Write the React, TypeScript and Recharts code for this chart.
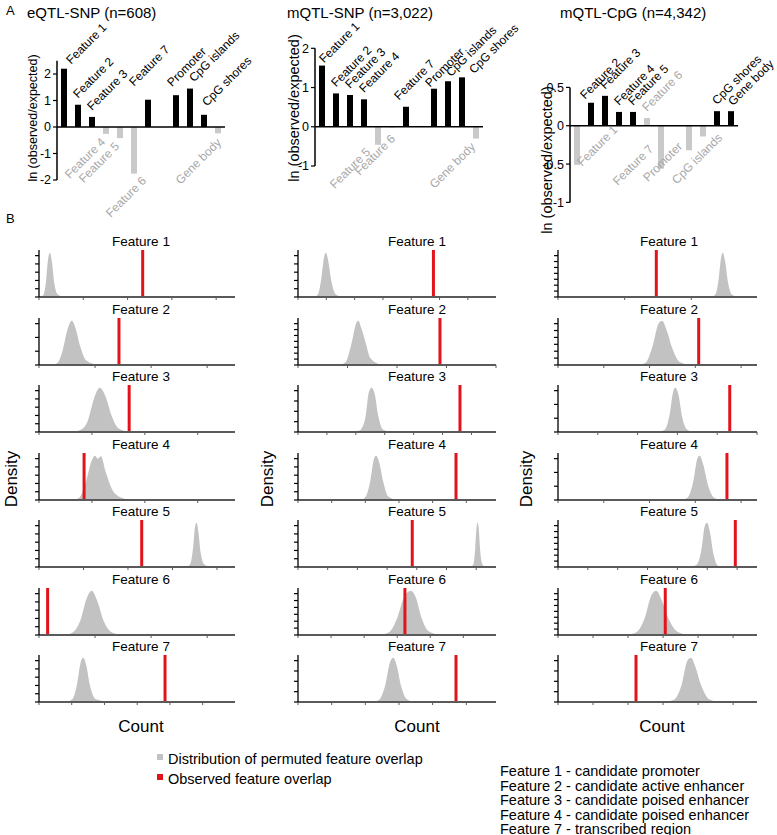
import { BarChart, Bar, Cell, XAxis, YAxis, ReferenceLine, LabelList, AreaChart, Area } from "recharts";

const FONT = '"Liberation Sans", Arial, Helvetica, sans-serif';
const BLACK = "#000000";
const GREY_BAR = "#c9c9c9";
const GREY_TEXT = "#a8a8a8";
const DENSITY_FILL = "#c2c2c2";
const RED = "#e3131b";

// ---- panel A: ln(observed/expected) per annotation ----
// the empty slot is the gap between Feature 7 and Promoter
const regions = [
  "Feature 1", "Feature 2", "Feature 3", "Feature 4", "Feature 5", "Feature 6", "Feature 7",
  "", "Promoter", "CpG islands", "CpG shores", "Gene body",
];

const eqtlSnpEnrich = [2.2, 0.84, 0.38, -0.26, -0.42, -1.76, 1.03, null, 1.2, 1.45, 0.46, -0.24];
const eqtlSnpSignif = [true, true, true, false, false, false, true, false, true, true, true, false];

const mqtlSnpEnrich = [1.56, 0.85, 0.81, 0.7, -0.46, -0.02, 0.51, null, 0.97, 1.16, 1.26, -0.3];
const mqtlSnpSignif = [true, true, true, true, false, false, true, false, true, true, true, false];

const mqtlCpgEnrich = [-0.51, 0.3, 0.39, 0.18, 0.18, 0.1, -0.56, null, -0.32, -0.14, 0.19, 0.19];
const mqtlCpgSignif = [false, true, true, true, true, false, false, false, false, false, true, true];

const eqtlSnpTicks = [-2, -1, 0, 1, 2];
const mqtlSnpTicks = [-1, 0, 1, 2];
const mqtlCpgTicks = [-1, -0.5, 0, 0.5];

// hand placement of some rotated labels, like the original
type Nudge = { dx?: number; dy?: number; anchor?: "start" | "end" };
const eqtlSnpNudges: Record<string, Nudge> = {
  "Feature 1": { dx: 7, dy: 2 },
  "Feature 7": { dx: -14, dy: -7 },
  "Feature 6": { dx: 13, dy: -1 },
  "Promoter": { dx: -4, dy: -2 },
  "CpG islands": { dx: 4 },
  "CpG shores": { dx: 3, dy: -2 },
  "Gene body": { dx: 4, dy: 1 },
};
const mqtlSnpNudges: Record<string, Nudge> = {
  "Feature 1": { dx: 2, dy: 4 },
  "Feature 5": { dx: -7, dy: -1 },
  "Feature 7": { dx: -7 },
  "Promoter": { dx: -4, dy: 5 },
  "CpG islands": { dx: 3, dy: 2 },
  "CpG shores": { dx: 12, dy: 3 },
  "Feature 6": { dx: 4, dy: 3 },
};
const mqtlCpgNudges: Record<string, Nudge> = {
  "Feature 1": { dx: 5, dy: -7, anchor: "start" },
  "Feature 2": { dx: -6, dy: 3 },
  "Feature 7": { dx: -7, dy: -28 },
  "Promoter": { dx: -6, dy: -12 },
  "CpG islands": { dx: 20, dy: -7 },
  "Gene body": { dx: 2, dy: 1 },
};

// ---- panel B: permuted overlap densities [count (0-100 of axis), density] ----
const eqtlSnpPerm = [
  [[0, 0], [2, 0.03], [3.5, 0.3], [4.6, 0.8], [5.6, 0.94], [6.6, 0.75], [7.8, 0.3], [9.5, 0.06], [13, 0]],
  [[6.6, 0], [9.5, 0.05], [12, 0.3], [14.5, 0.75], [16.7, 0.94], [18.5, 0.8], [21, 0.4], [24, 0.1], [30, 0]],
  [[17, 0], [21, 0.04], [25, 0.25], [28, 0.7], [31, 0.94], [34, 0.75], [37, 0.35], [40.5, 0.08], [46, 0]],
  [[17, 0], [20.5, 0.05], [24, 0.4], [27, 0.85], [28.6, 0.94], [30, 0.88], [31.6, 0.93], [34, 0.6], [37, 0.25], [41, 0.07], [47, 0]],
  [[74.5, 0], [77, 0.05], [78.6, 0.4], [79.6, 0.85], [80.4, 0.94], [81.3, 0.75], [82.5, 0.3], [84.5, 0.05], [88, 0]],
  [[12.4, 0], [17, 0.05], [21, 0.3], [24.5, 0.8], [26.9, 0.94], [29.5, 0.75], [33, 0.3], [37, 0.06], [43, 0]],
  [[13, 0], [17, 0.06], [19.5, 0.4], [21.3, 0.85], [22.6, 0.94], [24, 0.8], [26, 0.35], [29, 0.06], [38, 0]],
];
const mqtlSnpPerm = [
  [[7.7, 0], [10, 0.05], [11.8, 0.4], [13.2, 0.85], [14.1, 0.94], [15.2, 0.78], [16.8, 0.35], [19, 0.06], [22.9, 0]],
  [[20.4, 0], [24, 0.06], [27, 0.45], [29.3, 0.88], [30.5, 0.94], [32, 0.78], [34, 0.5], [36.5, 0.15], [42.3, 0]],
  [[26.6, 0], [31, 0.03], [34, 0.3], [35.8, 0.85], [37.2, 0.94], [38.8, 0.8], [40.5, 0.35], [43, 0.05], [48.1, 0]],
  [[31.3, 0], [34, 0.06], [36.5, 0.4], [38.4, 0.88], [39.4, 0.94], [41, 0.8], [43, 0.4], [45.5, 0.08], [49.8, 0]],
  [[86.9, 0], [88.5, 0.05], [89.5, 0.4], [90.2, 0.85], [90.7, 0.94], [91.3, 0.8], [92, 0.35], [93.2, 0.05], [94.9, 0]],
  [[40.6, 0], [46, 0.06], [50, 0.35], [53.5, 0.8], [56.9, 0.94], [59.5, 0.8], [62.5, 0.35], [66, 0.08], [71.7, 0]],
  [[37.2, 0], [41, 0.05], [44, 0.35], [46.5, 0.85], [48.1, 0.94], [50, 0.75], [52, 0.35], [55, 0.06], [59, 0]],
];
const mqtlCpgPerm = [
  [[76.5, 0], [79, 0.05], [80.8, 0.4], [82, 0.85], [82.8, 0.94], [84, 0.75], [85.5, 0.3], [87.5, 0.05], [90.8, 0]],
  [[39.7, 0], [44, 0.05], [47.5, 0.4], [50.5, 0.88], [52.3, 0.94], [54.5, 0.75], [57.5, 0.35], [61, 0.07], [66.5, 0]],
  [[49.7, 0], [53.5, 0.04], [56, 0.35], [58, 0.88], [59, 0.94], [60.5, 0.8], [62.5, 0.3], [65, 0.05], [68.2, 0]],
  [[61.5, 0], [65, 0.05], [68, 0.4], [70, 0.88], [71.2, 0.94], [73, 0.75], [75.5, 0.3], [78.5, 0.05], [82.4, 0]],
  [[66.2, 0], [69.5, 0.04], [72, 0.35], [73.8, 0.88], [74.9, 0.94], [76.3, 0.75], [78, 0.3], [80, 0.04], [81.5, 0]],
  [[33, 0], [39, 0.05], [43.5, 0.35], [47, 0.85], [49.4, 0.94], [52, 0.75], [55.5, 0.35], [60, 0.07], [65.7, 0]],
  [[53.1, 0], [58, 0.04], [62, 0.35], [65, 0.88], [66.8, 0.94], [69, 0.75], [72, 0.35], [76, 0.06], [81.6, 0]],
];

const eqtlSnpObserved = [52.9, 40.8, 46, 23, 52.4, 4.4, 64.3];
const mqtlSnpObserved = [68.4, 71.7, 81.8, 79.8, 57.7, 54, 79.8];
const mqtlCpgObserved = [49.4, 70.7, 86.3, 84.9, 89.1, 53.9, 39.2];

// tick counts / spacing of the small density axes
const eqtlSnpYTicks = [6, 4, 6, 6, 6, 6, 6];
const mqtlSnpYTicks = [6, 8, 5, 6, 6, 7, 5];
const mqtlCpgYTicks = [8, 7, 4, 4, 8, 8, 5];
const eqtlSnpXStep = [22.6, 28.6, 27, 27, 22.7, 28.6, 16.7];
const mqtlSnpXStep = [14.3, 25, 14.6, 17, 15, 16.7, 17];
const mqtlCpgXStep = [33.5, 23, 20, 23, 15, 17.6, 17.6];

const featureNames = ["Feature 1", "Feature 2", "Feature 3", "Feature 4", "Feature 5", "Feature 6", "Feature 7"];

const legendItems = ["Distribution of permuted feature overlap", "Observed feature overlap"];
const featureKey = [
  "Feature 1 - candidate promoter",
  "Feature 2 - candidate active enhancer",
  "Feature 3 - candidate poised enhancer",
  "Feature 4 - candidate poised enhancer",
  "Feature 7 - transcribed region",
];

type Row = { name: string; v: number | null; sig: boolean };

// LabelList skips the empty slot, so look the row up by its name
const makeBarLabel = (rows: Row[], nudges: Record<string, Nudge>) => (props: any) => {
  const { x, y, width, height, value } = props;
  const row = rows.find((r) => r.name === value);
  if (!row || row.v == null || !row.name) return null;
  const cx = Number(x) + Number(width) / 2;
  const top = Math.min(Number(y), Number(y) + Number(height));
  const bottom = Math.max(Number(y), Number(y) + Number(height));
  const n = nudges[row.name] || {};
  const up = row.v > 0;
  const anchor = n.anchor ?? (up ? "start" : "end");
  const px = cx + (n.dx ?? 0);
  const py = (up ? top - 6 : bottom + 9) + (n.dy ?? 0);
  return (
    <text
      x={px}
      y={py}
      transform={`rotate(-45 ${px} ${py})`}
      textAnchor={anchor}
      fontSize={12}
      fontFamily={FONT}
      fill={row.sig ? BLACK : GREY_TEXT}
    >
      {row.name}
    </text>
  );
};

function EnrichmentChart(props: {
  left: number;
  width: number;
  values: (number | null)[];
  signif: boolean[];
  ticks: number[];
  top: number;
  plotTop: number;
  plotBottom: number;
  nudges: Record<string, Nudge>;
}) {
  const { left, width, values, signif, ticks, top, plotTop, plotBottom, nudges } = props;
  const rows: Row[] = regions.map((name, i) => ({ name, v: values[i], sig: signif[i] }));
  const height = 250;
  return (
    <div style={{ position: "absolute", left, top: 0 }}>
      <BarChart
        width={width}
        height={height}
        data={rows}
        margin={{ top: plotTop, right: width - 57 - 168, bottom: height - plotBottom, left: 35 }}
        barSize={6}
      >
        <XAxis dataKey="name" hide />
        <YAxis
          type="number"
          domain={[ticks[0], top]}
          ticks={ticks}
          interval={0}
          width={22}
          tickSize={4}
          axisLine={{ stroke: BLACK, strokeWidth: 1.5 }}
          tickLine={{ stroke: BLACK, strokeWidth: 1.2 }}
          tick={{ fontSize: 12.5, fill: BLACK, fontFamily: FONT }}
        />
        <Bar dataKey="v" isAnimationActive={false}>
          {rows.map((r, i) => (
            <Cell key={`c-${i}`} fill={r.sig ? BLACK : GREY_BAR} />
          ))}
          <LabelList dataKey="name" content={makeBarLabel(rows, nudges)} />
        </Bar>
        <ReferenceLine y={0} stroke={BLACK} strokeWidth={1.5} />
      </BarChart>
    </div>
  );
}

function DensityPlot(props: {
  curve: number[][];
  observed: number;
  yTicks: number;
  xStep: number;
  left: number;
  baseline: number;
  width: number;
}) {
  const { curve, observed, yTicks, xStep, left, baseline, width } = props;
  const data = curve.map(([u, d]) => ({ u, d }));
  const xTicks: number[] = [];
  for (let t = 0; t <= 100.01; t += xStep) xTicks.push(Math.round(t * 100) / 100);
  const yTickVals = Array.from({ length: yTicks }, (_, i) => (0.88 * i) / (yTicks - 1));
  return (
    <div style={{ position: "absolute", left: left - 12, top: baseline - 49 }}>
      <AreaChart width={width + 18} height={55} data={data} margin={{ top: 2, right: 6, bottom: 0, left: 2 }}>
        <XAxis
          type="number"
          dataKey="u"
          domain={[0, 100]}
          ticks={xTicks}
          interval={0}
          allowDataOverflow
          height={6}
          tickSize={3}
          tickFormatter={() => ""}
          axisLine={{ stroke: "#5a5a5a", strokeWidth: 2 }}
          tickLine={{ stroke: "#5a5a5a", strokeWidth: 1 }}
        />
        <YAxis
          type="number"
          domain={[0, 1]}
          ticks={yTickVals}
          interval={0}
          width={10}
          tickSize={4}
          tickFormatter={() => ""}
          axisLine={{ stroke: BLACK, strokeWidth: 1.3 }}
          tickLine={{ stroke: BLACK, strokeWidth: 1.2 }}
        />
        <Area
          type="monotone"
          dataKey="d"
          fill={DENSITY_FILL}
          fillOpacity={1}
          stroke="none"
          isAnimationActive={false}
        />
        <ReferenceLine x={observed} stroke={RED} strokeWidth={3} />
      </AreaChart>
    </div>
  );
}

const abs = (style: React.CSSProperties): React.CSSProperties => ({ position: "absolute", whiteSpace: "nowrap", ...style });

export default function App() {
  const columns = [
    { x0: 39, w: 196, titleX: 141, countX: 141, densX: 12, perm: eqtlSnpPerm, obs: eqtlSnpObserved, yt: eqtlSnpYTicks, xs: eqtlSnpXStep },
    { x0: 298, w: 198, titleX: 417, countX: 417, densX: 268, perm: mqtlSnpPerm, obs: mqtlSnpObserved, yt: mqtlSnpYTicks, xs: mqtlSnpXStep },
    { x0: 558, w: 199, titleX: 669, countX: 662, densX: 527, perm: mqtlCpgPerm, obs: mqtlCpgObserved, yt: mqtlCpgYTicks, xs: mqtlCpgXStep },
  ];
  const baselines = featureNames.map((_, r) => 297 + r * 67.5);

  return (
    <div style={{ position: "absolute", left: 0, top: 0, width: 777, height: 835, background: "#fff", fontFamily: FONT, color: BLACK, overflow: "hidden" }}>
      {/* panel A */}
      <div style={abs({ left: 6, top: 3, fontSize: 13 })}>A</div>
      <div style={abs({ left: 27, top: 4, fontSize: 15 })}>eQTL-SNP (n=608)</div>
      <div style={abs({ left: 287, top: 4, fontSize: 15 })}>mQTL-SNP (n=3,022)</div>
      <div style={abs({ left: 560, top: 4, fontSize: 15 })}>mQTL-CpG (n=4,342)</div>

      <EnrichmentChart left={0} width={300} values={eqtlSnpEnrich} signif={eqtlSnpSignif} ticks={eqtlSnpTicks} top={2.5} plotTop={60.75} plotBottom={180} nudges={eqtlSnpNudges} />
      <EnrichmentChart left={258} width={300} values={mqtlSnpEnrich} signif={mqtlSnpSignif} ticks={mqtlSnpTicks} top={2} plotTop={48.3} plotBottom={166} nudges={mqtlSnpNudges} />
      <EnrichmentChart left={513} width={264} values={mqtlCpgEnrich} signif={mqtlCpgSignif} ticks={mqtlCpgTicks} top={0.5} plotTop={87.4} plotBottom={202.4} nudges={mqtlCpgNudges} />

      <div style={abs({ left: 33, top: 118, fontSize: 12.5, transform: "translate(-50%, -50%) rotate(-90deg)" })}>ln (observed/expected)</div>
      <div style={abs({ left: 294, top: 108, fontSize: 14.5, transform: "translate(-50%, -50%) rotate(-90deg)" })}>ln (observed/expected)</div>
      <div style={abs({ left: 547, top: 160, fontSize: 14.5, transform: "translate(-50%, -50%) rotate(-90deg)" })}>ln (observed/expected)</div>

      {/* panel B */}
      <div style={abs({ left: 6, top: 211, fontSize: 13 })}>B</div>
      {columns.map((col, c) => (
        <div key={`col-${c}`}>
          {featureNames.map((f, r) => (
            <div key={`t-${c}-${r}`} style={abs({ left: col.titleX, top: baselines[r] - 56, fontSize: 13.5, transform: "translate(-50%, -50%)" })}>
              {f}
            </div>
          ))}
          {featureNames.map((f, r) => (
            <DensityPlot
              key={`d-${c}-${r}`}
              curve={col.perm[r]}
              observed={col.obs[r]}
              yTicks={col.yt[r]}
              xStep={col.xs[r]}
              left={col.x0}
              baseline={baselines[r]}
              width={col.w}
            />
          ))}
          <div style={abs({ left: col.densX, top: 479, fontSize: 17, transform: "translate(-50%, -50%) rotate(-90deg)" })}>Density</div>
          <div style={abs({ left: col.countX, top: 727, fontSize: 17, transform: "translate(-50%, -50%)" })}>Count</div>
        </div>
      ))}

      {/* legend */}
      {legendItems.map((t, i) => (
        <div key={`lg-${i}`}>
          <div style={abs({ left: 157, top: 754 + i * 20, width: 6, height: 6, background: i === 0 ? DENSITY_FILL : RED })} />
          <div style={abs({ left: 168, top: 759 + i * 20, fontSize: 14.5, transform: "translateY(-50%)" })}>{t}</div>
        </div>
      ))}
      {featureKey.map((t, i) => (
        <div key={`fk-${i}`} style={abs({ left: 500, top: 771 + i * 14.5, fontSize: 14.5, lineHeight: "15px", transform: "translateY(-50%)" })}>
          {t}
        </div>
      ))}
    </div>
  );
}
